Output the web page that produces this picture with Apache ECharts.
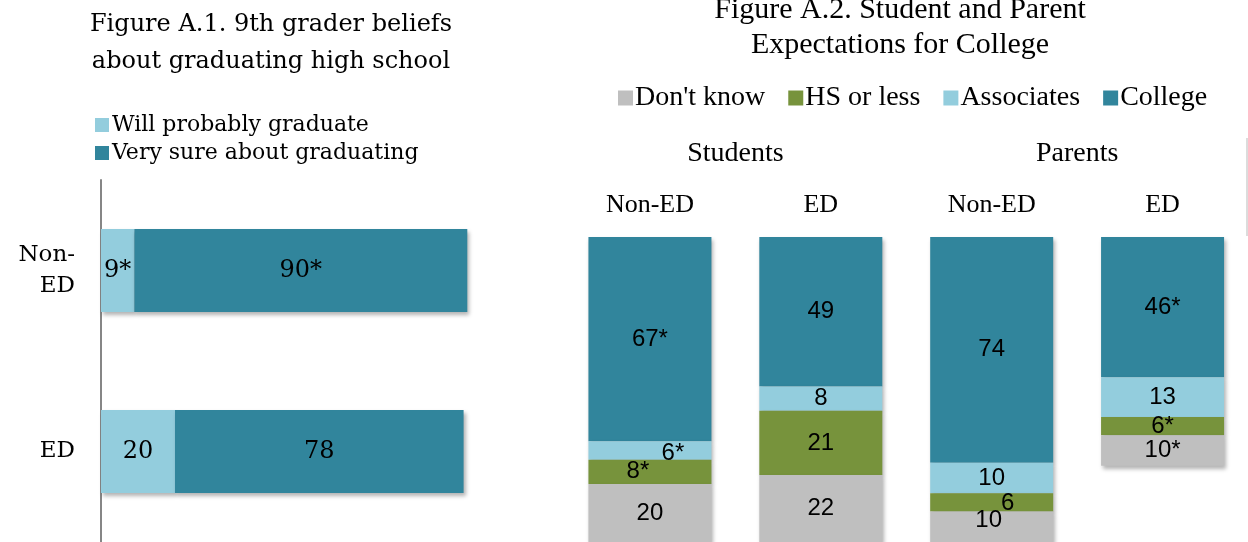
<!DOCTYPE html>
<html>
<head>
<meta charset="utf-8">
<script src="https://cdn.jsdelivr.net/npm/echarts@6/dist/echarts.min.js"></script>
<style>
  html, body { margin: 0; padding: 0; background: #fff; }
  #chart { width: 1248px; height: 542px; }
</style>
</head>
<body>
<div id="chart"></div>
<script>
// Figure A.1 — 9th grader beliefs about graduating (percent)
const gradGroups = ['Non-ED', 'ED'];
const willProbably = [9, 20];
const verySure = [90, 78];
const willProbablySig = [true, false];
const verySureSig = [true, false];

// Figure A.2 — student and parent expectations for college (percent)
const respondentGroups = ['Students', 'Parents'];
const expCategories = ['Non-ED', 'ED', 'Non-ED', 'ED'];
const dontKnow = [20, 22, 10, 10];
const hsOrLess = [8, 21, 6, 6];
const associates = [6, 8, 10, 13];
const college = [67, 49, 74, 46];
const dontKnowSig = [false, false, false, true];
const hsOrLessSig = [true, false, false, true];
const associatesSig = [true, false, false, false];
const collegeSig = [true, false, false, true];

const C_LIGHT = '#93CDDD', C_TEAL = '#31859C', C_GREEN = '#77933C', C_GRAY = '#BFBFBF';
const SERIF_L = '"DejaVu Serif", "Liberation Serif", serif';
const SERIF_R = '"Liberation Serif", "DejaVu Serif", serif';
const SANS_R = '"Liberation Sans Narrow", "Liberation Sans", sans-serif';

const shadow = { shadowColor: 'rgba(0,0,0,0.3)', shadowBlur: 4, shadowOffsetX: 2, shadowOffsetY: 3 };

// small manual nudges for crowded segment labels: [seriesKey][index] -> [dx, dy]
const labelNudge = {
  associates: { 0: [23, 3] },
  hsOrLess: { 0: [-12, 0], 2: [16, 1] },
  dontKnow: { 2: [-3, -6] }
};

function withSig(values, sig, key) {
  return values.map((v, i) => {
    const item = { value: v, sig: sig[i] };
    const n = labelNudge[key] && labelNudge[key][i];
    if (n) item.label = { offset: n };
    return item;
  });
}
const sigFormatter = p => p.value + (p.data.sig ? '*' : '');

const leftLabel = {
  show: true, position: 'inside', color: '#000',
  fontFamily: SERIF_L, fontSize: 24, formatter: sigFormatter
};
const rightLabel = {
  show: true, position: 'inside', color: '#000',
  fontFamily: SANS_R, fontSize: 24, formatter: sigFormatter
};

const option = {
  animation: false,
  backgroundColor: '#fff',
  title: [
    {
      text: 'Figure A.1. 9th grader beliefs\nabout graduating high school',
      left: 266, top: 1, textAlign: 'center',
      textStyle: { fontFamily: SERIF_L, fontSize: 24, fontWeight: 'normal', color: '#000', lineHeight: 37 }
    },
    {
      text: 'Figure A.2. Student and Parent\nExpectations for College',
      left: 895, top: -12, textAlign: 'center',
      textStyle: { fontFamily: SERIF_R, fontSize: 30, fontWeight: 'normal', color: '#000', lineHeight: 35 }
    }
  ],
  legend: [
    {
      data: ['Will probably graduate', 'Very sure about graduating'],
      orient: 'vertical', left: 90, top: 109,
      itemWidth: 14, itemHeight: 14, itemGap: 6,
      icon: 'rect',
      textStyle: { fontFamily: SERIF_L, fontSize: 22, color: '#000', padding: [0, 0, 0, -2] }
    },
    {
      data: ["Don't know", 'HS or less', 'Associates', 'College'],
      orient: 'horizontal', left: 613, top: 79,
      itemWidth: 15, itemHeight: 15, itemGap: 23,
      icon: 'rect',
      textStyle: { fontFamily: SERIF_R, fontSize: 28, color: '#000', padding: [0, 0, 0, -3] }
    }
  ],
  grid: [
    { left: 101, top: 180, width: 370, height: 364 },
    { left: 564.5, top: 237, width: 684, height: 307 }
  ],
  xAxis: [
    { gridIndex: 0, type: 'value', min: 0, max: 100, show: false },
    {
      gridIndex: 1, type: 'category', data: expCategories, position: 'top',
      axisLine: { show: false }, axisTick: { show: false },
      axisLabel: { margin: 19, fontFamily: SERIF_R, fontSize: 26, color: '#000' }
    },
    {
      gridIndex: 1, type: 'category', data: respondentGroups, position: 'top', offset: 50,
      axisLine: { show: false }, axisTick: { show: false },
      axisLabel: { margin: 19, fontFamily: SERIF_R, fontSize: 28, color: '#000' }
    }
  ],
  yAxis: [
    {
      gridIndex: 0, type: 'category', data: gradGroups, inverse: true,
      axisLine: { show: true, lineStyle: { color: '#868686', width: 2 } },
      axisTick: { show: false },
      axisLabel: {
        margin: 26, fontFamily: SERIF_L, fontSize: 23, color: '#000', lineHeight: 31, align: 'right',
        formatter: v => v.replace('-', '-\n')
      }
    },
    { gridIndex: 1, type: 'value', min: 0, max: 100, inverse: true, show: false }
  ],
  series: [
    {
      name: 'Will probably graduate', type: 'bar', stack: 'grad',
      xAxisIndex: 0, yAxisIndex: 0, barWidth: 83,
      itemStyle: Object.assign({ color: C_LIGHT }, shadow),
      label: leftLabel,
      data: withSig(willProbably, willProbablySig, 'willProbably')
    },
    {
      name: 'Very sure about graduating', type: 'bar', stack: 'grad',
      xAxisIndex: 0, yAxisIndex: 0, barWidth: 83,
      itemStyle: Object.assign({ color: C_TEAL }, shadow),
      label: leftLabel,
      data: withSig(verySure, verySureSig, 'verySure')
    },
    {
      name: 'College', type: 'bar', stack: 'exp',
      xAxisIndex: 1, yAxisIndex: 1, barWidth: 123,
      itemStyle: Object.assign({ color: C_TEAL }, shadow),
      label: rightLabel,
      data: withSig(college, collegeSig, 'college')
    },
    {
      name: 'Associates', type: 'bar', stack: 'exp',
      xAxisIndex: 1, yAxisIndex: 1, barWidth: 123,
      itemStyle: Object.assign({ color: C_LIGHT }, shadow),
      label: rightLabel,
      data: withSig(associates, associatesSig, 'associates')
    },
    {
      name: 'HS or less', type: 'bar', stack: 'exp',
      xAxisIndex: 1, yAxisIndex: 1, barWidth: 123,
      itemStyle: Object.assign({ color: C_GREEN }, shadow),
      label: rightLabel,
      data: withSig(hsOrLess, hsOrLessSig, 'hsOrLess')
    },
    {
      name: "Don't know", type: 'bar', stack: 'exp',
      xAxisIndex: 1, yAxisIndex: 1, barWidth: 123,
      itemStyle: Object.assign({ color: C_GRAY }, shadow),
      label: rightLabel,
      data: withSig(dontKnow, dontKnowSig, 'dontKnow')
    }
  ],
  graphic: [
    // frame edge of the second figure
    { type: 'line', shape: { x1: 1247, y1: 138, x2: 1247, y2: 236 }, style: { stroke: '#d0d0d0', lineWidth: 1.5 }, silent: true }
  ]
};

const chart = echarts.init(document.getElementById('chart'), null, { renderer: 'canvas' });
chart.setOption(option);
</script>
</body>
</html>
